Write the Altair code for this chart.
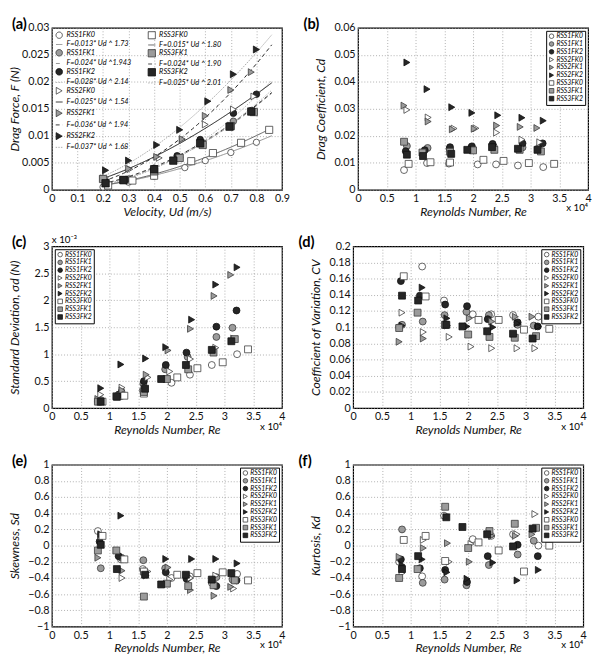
import altair as alt
import pandas as pd

FONT = "Lato"
W, H = 236, 166

SERIES = ["RSS1FK0", "RSS1FK1", "RSS1FK2", "RSS2FK0", "RSS2FK1", "RSS2FK2",
          "RSS3FK0", "RSS3FK1", "RSS3FK2"]
SHAPES = ["circle"] * 3 + ["triangle-right"] * 3 + ["square"] * 3
FILLS = ["#ffffff", "#9b9b9b", "#262626"] * 3
STROKES = ["#3c3c3c", "#3a3a3a", "#111111"] * 3

# ---- panel (a): drag force vs velocity
U_VEL = {
    "RSS1FK0": [0.20, 0.30, 0.40, 0.52, 0.60, 0.70, 0.80],
    "RSS1FK1": [0.21, 0.30, 0.40, 0.50, 0.59, 0.71, 0.78],
    "RSS1FK2": [0.21, 0.29, 0.40, 0.49, 0.58, 0.71, 0.80],
    "RSS2FK0": [0.21, 0.305, 0.42, 0.51, 0.60, 0.71, 0.79],
    "RSS2FK1": [0.20, 0.30, 0.41, 0.51, 0.60, 0.70, 0.78],
    "RSS2FK2": [0.21, 0.30, 0.41, 0.50, 0.61, 0.71, 0.80],
    "RSS3FK0": [0.22, 0.315, 0.40, 0.545, 0.63, 0.74, 0.85],
    "RSS3FK1": [0.20, 0.28, 0.40, 0.50, 0.59, 0.70, 0.79],
    "RSS3FK2": [0.21, 0.28, 0.40, 0.475, 0.58, 0.695, 0.78],
}
F_DRAG = {
    "RSS1FK0": [0.0005, 0.0014, 0.0025, 0.0041, 0.0054, 0.0069, 0.0088],
    "RSS1FK1": [0.0012, 0.0020, 0.0036, 0.0060, 0.0086, 0.0127, 0.0147],
    "RSS1FK2": [0.0015, 0.0019, 0.0040, 0.0063, 0.0093, 0.0142, 0.0177],
    "RSS2FK0": [0.0022, 0.0038, 0.0059, 0.0092, 0.0121, 0.0149, 0.0173],
    "RSS2FK1": [0.0021, 0.0039, 0.0061, 0.0094, 0.0137, 0.0185, 0.0218],
    "RSS2FK2": [0.0036, 0.0054, 0.0083, 0.0111, 0.0164, 0.0214, 0.0260],
    "RSS3FK0": [0.0008, 0.0017, 0.0026, 0.0053, 0.0068, 0.0087, 0.0111],
    "RSS3FK1": [0.0020, 0.0018, 0.0034, 0.0059, 0.0083, 0.0118, 0.0144],
    "RSS3FK2": [0.0012, 0.0018, 0.0038, 0.0054, 0.0086, 0.0117, 0.0145],
}
FIT_A = [0.013, 0.024, 0.028, 0.025, 0.036, 0.037, 0.015, 0.024, 0.025]
FIT_B = [1.73, 1.943, 2.14, 1.54, 1.94, 1.68, 1.80, 1.90, 2.01]
FIT_LABELS = ["F=0.013* Ud ^ 1.73", "F=0.024* Ud ^1.943", "F=0.028* Ud ^ 2.14",
              "F=0.025* Ud ^ 1.54", "F=0.036* Ud ^ 1.94", "F=0.037* Ud ^ 1.68",
              "F=0.015* Ud ^ 1.80", "F=0.024* Ud ^ 1.90", "F=0.025* Ud ^ 2.01"]
FIT_COLORS = ["#8a8a8a", "#8a8a8a", "#b4b4b4", "#111111", "#222222", "#a6a6a6",
              "#555555", "#333333", "#b4b4b4"]
FIT_DASH = [[1, 0], [4, 3], [1.5, 1.5], [1, 0], [4, 3], [1.5, 1.2],
            [1, 0], [4, 3], [1.5, 1.5]]

# ---- panels (b)-(f): Reynolds number (x 10^4)
RE = {
    "RSS1FK0": [0.80, 1.20, 1.58, 2.08, 2.40, 2.78, 3.22],
    "RSS1FK1": [0.85, 1.21, 1.59, 1.97, 2.36, 2.86, 3.14],
    "RSS1FK2": [0.83, 1.16, 1.60, 1.98, 2.34, 2.86, 3.21],
    "RSS2FK0": [0.85, 1.22, 1.67, 2.05, 2.41, 2.85, 3.16],
    "RSS2FK1": [0.80, 1.22, 1.64, 2.02, 2.41, 2.82, 3.11],
    "RSS2FK2": [0.85, 1.20, 1.63, 1.98, 2.43, 2.85, 3.22],
    "RSS3FK0": [0.88, 1.26, 1.60, 2.18, 2.53, 2.97, 3.41],
    "RSS3FK1": [0.80, 1.12, 1.60, 2.00, 2.37, 2.81, 3.18],
    "RSS3FK2": [0.85, 1.13, 1.62, 1.90, 2.33, 2.78, 3.12],
}
CD = {
    "RSS1FK0": [0.0073, 0.0099, 0.0097, 0.0094, 0.0094, 0.0090, 0.0084],
    "RSS1FK1": [0.0162, 0.0155, 0.0152, 0.0158, 0.0160, 0.0157, 0.0155],
    "RSS1FK2": [0.0143, 0.0147, 0.0158, 0.0161, 0.0170, 0.0172, 0.0172],
    "RSS2FK0": [0.0296, 0.0268, 0.0227, 0.0228, 0.0212, 0.0186, 0.0176],
    "RSS2FK1": [0.0312, 0.0253, 0.0224, 0.0226, 0.0238, 0.0233, 0.0229],
    "RSS2FK2": [0.0472, 0.0373, 0.0306, 0.0285, 0.0276, 0.0267, 0.0256],
    "RSS3FK0": [0.0096, 0.0102, 0.0101, 0.0111, 0.0107, 0.0099, 0.0096],
    "RSS3FK1": [0.0178, 0.0138, 0.0141, 0.0146, 0.0148, 0.0148, 0.0142],
    "RSS3FK2": [0.0130, 0.0125, 0.0133, 0.0148, 0.0158, 0.0152, 0.0148],
}
SD = {  # x 10^-3 N
    "RSS1FK0": [0.12, 0.22, 0.33, 0.47, 0.62, 0.80, 1.00],
    "RSS1FK1": [0.15, 0.30, 0.45, 0.72, 0.95, 1.32, 1.49],
    "RSS1FK2": [0.13, 0.25, 0.50, 0.80, 1.03, 1.51, 1.81],
    "RSS2FK0": [0.25, 0.38, 0.57, 0.68, 0.91, 1.12, 1.29],
    "RSS2FK1": [0.17, 0.33, 0.62, 1.07, 1.47, 2.08, 2.47],
    "RSS2FK2": [0.37, 0.81, 0.92, 1.13, 1.64, 2.29, 2.61],
    "RSS3FK0": [0.12, 0.23, 0.27, 0.57, 0.74, 0.85, 1.09],
    "RSS3FK1": [0.12, 0.22, 0.30, 0.54, 0.72, 1.03, 1.28],
    "RSS3FK2": [0.12, 0.21, 0.36, 0.54, 0.80, 1.08, 1.24],
}
CV = {
    "RSS1FK0": [0.100, 0.175, 0.133, 0.116, 0.116, 0.115, 0.113],
    "RSS1FK1": [0.103, 0.107, 0.115, 0.119, 0.115, 0.103, 0.102],
    "RSS1FK2": [0.157, 0.139, 0.128, 0.126, 0.110, 0.106, 0.101],
    "RSS2FK0": [0.118, 0.094, 0.088, 0.076, 0.074, 0.074, 0.074],
    "RSS2FK1": [0.082, 0.086, 0.102, 0.111, 0.107, 0.113, 0.113],
    "RSS2FK2": [0.102, 0.149, 0.111, 0.101, 0.100, 0.105, 0.101],
    "RSS3FK0": [0.163, 0.138, 0.103, 0.109, 0.109, 0.097, 0.098],
    "RSS3FK1": [0.099, 0.118, 0.103, 0.091, 0.088, 0.087, 0.089],
    "RSS3FK2": [0.139, 0.133, 0.103, 0.101, 0.095, 0.092, 0.086],
}
SK = {
    "RSS1FK0": [0.18, -0.17, -0.29, -0.40, -0.38, -0.46, -0.35],
    "RSS1FK1": [-0.28, -0.15, -0.18, -0.28, -0.40, -0.39, -0.42],
    "RSS1FK2": [0.05, -0.13, -0.32, -0.33, -0.41, -0.50, -0.43],
    "RSS2FK0": [0.12, -0.40, -0.32, -0.42, -0.40, -0.37, -0.53],
    "RSS2FK1": [-0.15, -0.31, -0.37, -0.27, -0.55, -0.62, -0.51],
    "RSS2FK2": [0.14, 0.37, -0.33, -0.165, -0.165, -0.165, -0.22],
    "RSS3FK0": [0.12, -0.17, -0.32, -0.36, -0.34, -0.33, -0.43],
    "RSS3FK1": [-0.06, -0.06, -0.63, -0.47, -0.50, -0.49, -0.43],
    "RSS3FK2": [0.01, -0.29, -0.36, -0.48, -0.36, -0.42, -0.34],
}
KU = {
    "RSS1FK0": [-0.20, -0.38, 0.37, 0.08, 0.12, 0.14, 0.00],
    "RSS1FK1": [0.20, -0.46, -0.42, -0.49, -0.24, -0.11, 0.06],
    "RSS1FK2": [-0.17, -0.28, -0.30, -0.45, -0.13, 0.01, -0.13],
    "RSS2FK0": [-0.34, 0.07, -0.20, 0.02, 0.12, 0.14, 0.39],
    "RSS2FK1": [-0.14, -0.03, 0.03, -0.20, 0.12, 0.12, 0.14],
    "RSS2FK2": [-0.24, -0.17, -0.33, -0.41, -0.21, -0.43, -0.30],
    "RSS3FK0": [0.07, 0.12, -0.19, 0.04, -0.06, -0.32, 0.00],
    "RSS3FK1": [-0.40, -0.29, 0.48, -0.03, 0.18, 0.27, 0.22],
    "RSS3FK2": [-0.29, -0.13, 0.35, 0.23, 0.14, -0.01, 0.21],
}

XT_A = [0, 0.1, 0.2, 0.3, 0.4, 0.5, 0.6, 0.7, 0.8, 0.9]
YT_A = [0, 0.005, 0.01, 0.015, 0.02, 0.025, 0.03]
XT_RE = [0, 0.5, 1, 1.5, 2, 2.5, 3, 3.5, 4]
YT_CD = [0, 0.01, 0.02, 0.03, 0.04, 0.05, 0.06]
YT_SD = [0, 0.5, 1, 1.5, 2, 2.5, 3]
YT_CV = [0, 0.02, 0.04, 0.06, 0.08, 0.1, 0.12, 0.14, 0.16, 0.18, 0.2]
YT_SK = [-1, -0.8, -0.6, -0.4, -0.2, 0, 0.2, 0.4, 0.6, 0.8, 1]

LBL_DX_L = -41
LBL_DX_R = -56


def long_df(xd, yd):
    rows = []
    for s in SERIES:
        for xv, yv in zip(xd[s], yd[s]):
            rows.append({"key": s, "x": xv, "y": yv})
    return pd.DataFrame(rows)


def enc_xy(xdom, xvals, xtitle, ydom, yvals, ytitle):
    x = alt.X("x:Q", scale=alt.Scale(domain=xdom, nice=False, zero=False),
              axis=alt.Axis(values=xvals, format="~g", title=xtitle))
    y = alt.Y("y:Q", scale=alt.Scale(domain=ydom, nice=False, zero=False),
              axis=alt.Axis(values=yvals, format="~g", title=ytitle))
    return x, y


def annot(text, dx, dy, size, weight="normal", align="left"):
    return alt.Chart(pd.DataFrame({"t": [text]})).mark_text(
        align=align, baseline="alphabetic", fontSize=size, fontWeight=weight,
        font=FONT, color="black"
    ).encode(x=alt.value(dx), y=alt.value(dy), text="t:N")


def scatter_panel(df, ydom, yvals, ytitle, orient, label, left, extra=()):
    leg = alt.Legend(title=None, orient=orient, offset=3, padding=2,
                     strokeColor="black", fillColor="white", cornerRadius=0,
                     rowPadding=-1.2, symbolSize=22, symbolStrokeWidth=0.8,
                     labelFont=FONT, labelFontSize=7, labelFontStyle="italic",
                     labelOffset=1.5, labelColor="black")
    x, y = enc_xy([0, 4], XT_RE, "Reynolds Number, Re", ydom, yvals, ytitle)
    pts = alt.Chart(df).mark_point(filled=True, size=50, strokeWidth=0.8, opacity=1).encode(
        x=x, y=y,
        shape=alt.Shape("key:N", scale=alt.Scale(domain=SERIES, range=SHAPES), legend=leg),
        fill=alt.Fill("key:N", scale=alt.Scale(domain=SERIES, range=FILLS), legend=leg),
        stroke=alt.Stroke("key:N", scale=alt.Scale(domain=SERIES, range=STROKES), legend=leg),
    )
    layers = [pts, annot(label, LBL_DX_L if left else LBL_DX_R, 1, 15, "bold"),
              annot("x 10\u2074", W, H + 22, 10, align="right")] + list(extra)
    return alt.layer(*layers).properties(width=W, height=H)


# ---- panel (a) legend: 2 columns filled top-to-bottom, blanks pad column 2
keys_a, shp_a, fill_a, strk_a, dash_a, size_a = [], [], [], [], [], []


def add_series(i):
    keys_a.append(SERIES[i]); shp_a.append(SHAPES[i]); fill_a.append(FILLS[i])
    strk_a.append(STROKES[i]); dash_a.append([1, 0]); size_a.append(42)


def add_eq(i):
    keys_a.append(FIT_LABELS[i]); shp_a.append("stroke"); fill_a.append("transparent")
    strk_a.append(FIT_COLORS[i]); dash_a.append(FIT_DASH[i]); size_a.append(64)


def add_blank():
    keys_a.append("_b%d" % len(keys_a)); shp_a.append("circle"); fill_a.append("transparent")
    strk_a.append("transparent"); dash_a.append([1, 0]); size_a.append(20)


for i in range(9):
    add_series(i)
    add_eq(i)
for _ in range(6):
    add_blank()

legA = alt.Legend(title=None, orient="top-left", offset=2, padding=1, columns=2,
                  columnPadding=14, rowPadding=-1.5, symbolStrokeWidth=0.9,
                  labelFont=FONT, labelFontSize=7.5, labelFontStyle="italic",
                  labelOffset=3, labelColor="black", symbolLimit=40,
                  labelExpr="indexof(datum.label, '_b') == 0 ? '' : datum.label")

xa, ya = enc_xy([0, 0.9], XT_A, "Velocity, Ud (m/s)", [0, 0.03], YT_A, "Drag Force, F (N)")
sc_stroke = alt.Scale(domain=keys_a, range=strk_a)
fit_df = pd.DataFrame({"key": FIT_LABELS, "a": FIT_A, "b": FIT_B})
fit_lines = alt.Chart(fit_df).transform_calculate(
    x="sequence(0.2, 0.862, 0.01)"
).transform_flatten(["x"]).transform_calculate(
    y="datum.a * pow(datum.x, datum.b)"
).mark_line(strokeWidth=1).encode(
    x=xa, y=ya,
    stroke=alt.Stroke("key:N", scale=sc_stroke, legend=legA),
    strokeDash=alt.StrokeDash("key:N", scale=alt.Scale(domain=keys_a, range=dash_a), legend=legA),
)
pts_a = alt.Chart(long_df(U_VEL, F_DRAG)).mark_point(filled=True, strokeWidth=0.8, opacity=1).encode(
    x=xa, y=ya,
    shape=alt.Shape("key:N", scale=alt.Scale(domain=keys_a, range=shp_a), legend=legA),
    fill=alt.Fill("key:N", scale=alt.Scale(domain=keys_a, range=fill_a), legend=legA),
    stroke=alt.Stroke("key:N", scale=sc_stroke, legend=legA),
    size=alt.Size("key:N", scale=alt.Scale(domain=keys_a, range=size_a), legend=legA),
)
panel_a = alt.layer(fit_lines, pts_a, annot("(a)", LBL_DX_L, 1, 15, "bold")).properties(width=W, height=H)

panel_b = scatter_panel(long_df(RE, CD), [0, 0.06], YT_CD, "Drag Coefficient, Cd", "top-right", "(b)", False)
panel_c = scatter_panel(long_df(RE, SD), [0, 3], YT_SD, "Standard Deviation, \u03c3d (N)", "top-left", "(c)", True,
                        extra=[annot("x 10\u207b\u00b3", 0, -3, 10)])
panel_d = scatter_panel(long_df(RE, CV), [0, 0.2], YT_CV, "Coefficient of Variation, CV", "top-right", "(d)", False)
panel_e = scatter_panel(long_df(RE, SK), [-1, 1], YT_SK, "Skewness, Sd", "top-right", "(e)", True)
panel_f = scatter_panel(long_df(RE, KU), [-1, 1], YT_SK, "Kurtosis, Kd", "top-right", "(f)", False)

IND = dict(shape="independent", fill="independent", stroke="independent",
           strokeDash="independent", size="independent")


def row(p1, p2):
    return alt.hconcat(p1, p2, spacing=12).resolve_scale(**IND).resolve_legend(**IND)


chart = alt.vconcat(row(panel_a, panel_b), row(panel_c, panel_d), row(panel_e, panel_f),
                    spacing=16).resolve_scale(**IND).resolve_legend(**IND).properties(
    padding=0, background="white"
).configure_axis(
    grid=True, gridColor="#9a9a9a", gridDash=[1, 2], gridWidth=0.8,
    domain=False, ticks=False, labelFont=FONT, labelFontSize=11, labelColor="#111",
    labelPadding=3, labelFlush=False, labelOverlap=False,
    titleFont=FONT, titleFontSize=12.5, titleFontStyle="italic", titleFontWeight="normal",
    titleColor="#111"
).configure_axisY(minExtent=29, maxExtent=29, titlePadding=2
).configure_axisX(titlePadding=2
).configure_view(stroke="black", strokeWidth=1.2)

chart.save("out.html", embed_options={"renderer": "svg", "actions": False})
